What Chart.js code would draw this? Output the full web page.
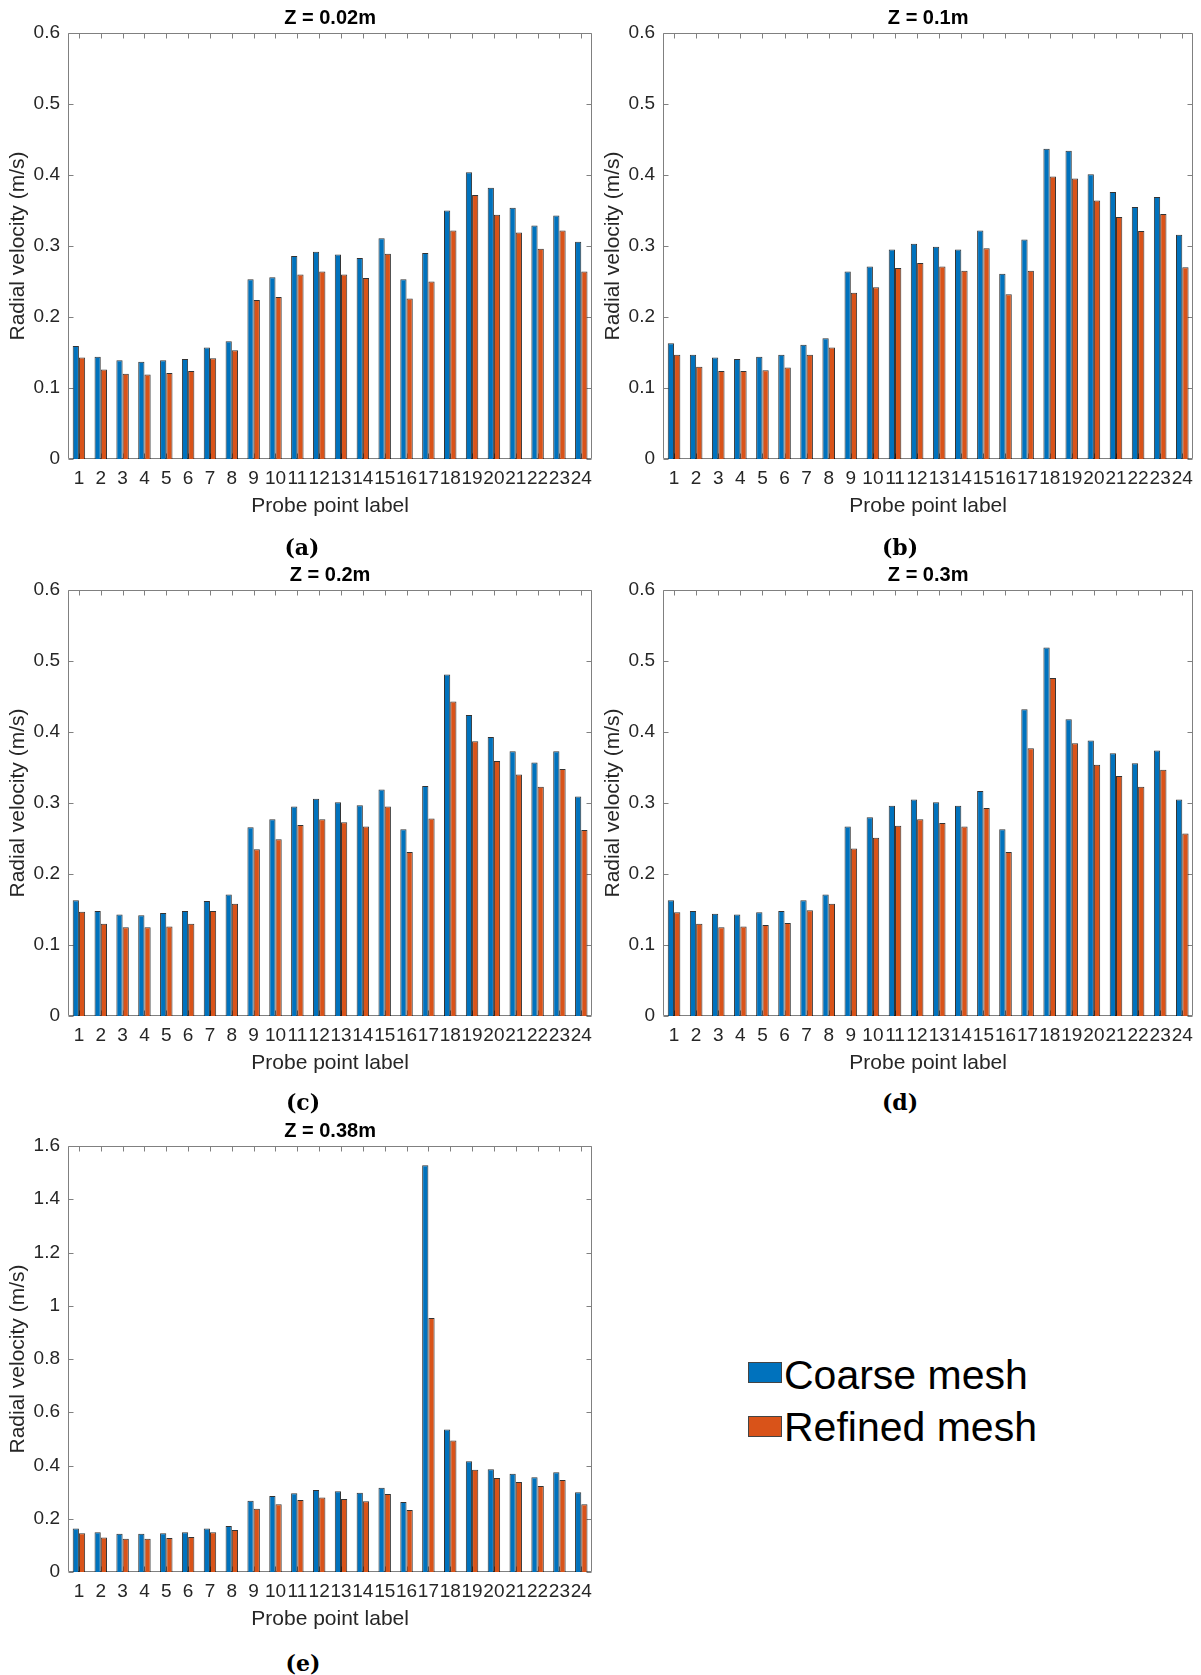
<!DOCTYPE html>
<html>
<head>
<meta charset="utf-8">
<script src="https://cdn.jsdelivr.net/npm/chart.js@4.4.1/dist/chart.umd.min.js"></script>
<style>
  body{margin:0;background:#fff;width:1201px;height:1675px;position:relative;overflow:hidden;font-family:"Liberation Sans",Arial,sans-serif}
  canvas{position:absolute}
  .cap{position:absolute;width:100px;text-align:center;font:bold 22px "DejaVu Serif",serif;line-height:26px;color:#000}
  .legtxt{position:absolute;left:784px;font-size:41px;line-height:41px;color:#000;white-space:nowrap}
  .sw{position:absolute;left:748px;width:32px;height:19px;border:1px solid #444}
</style>
</head>
<body>
<canvas id="pa" width="600" height="531" style="left:0;top:0"></canvas>
<canvas id="pb" width="606" height="531" style="left:595px;top:0"></canvas>
<canvas id="pc" width="600" height="531" style="left:0;top:557px"></canvas>
<canvas id="pd" width="606" height="531" style="left:595px;top:557px"></canvas>
<canvas id="pe" width="600" height="531" style="left:0;top:1113px"></canvas>

<div class="cap" style="left:252px;top:534px">(a)</div>
<div class="cap" style="left:850px;top:534px">(b)</div>
<div class="cap" style="left:253px;top:1089px">(c)</div>
<div class="cap" style="left:850px;top:1089px">(d)</div>
<div class="cap" style="left:253px;top:1650px">(e)</div>

<div class="sw" style="top:1362px;background:#0072BD"></div>
<div class="legtxt" style="top:1355px">Coarse mesh</div>
<div class="sw" style="top:1416px;background:#D95319"></div>
<div class="legtxt" style="top:1407px">Refined mesh</div>

<script>
const probeLabels = ['1','2','3','4','5','6','7','8','9','10','11','12','13','14','15','16','17','18','19','20','21','22','23','24'];

// Z = 0.02m
const coarse002 = [0.159,0.144,0.139,0.137,0.139,0.141,0.157,0.166,0.253,0.256,0.286,0.292,0.288,0.283,0.311,0.253,0.290,0.350,0.404,0.382,0.354,0.329,0.343,0.306];
const refined002 = [0.143,0.126,0.120,0.119,0.121,0.124,0.142,0.153,0.224,0.228,0.260,0.264,0.260,0.255,0.289,0.226,0.250,0.322,0.372,0.344,0.319,0.296,0.322,0.264];
// Z = 0.1m
const coarse01 = [0.163,0.147,0.143,0.141,0.144,0.147,0.161,0.170,0.264,0.271,0.295,0.303,0.299,0.295,0.322,0.261,0.309,0.437,0.434,0.401,0.376,0.355,0.369,0.316];
const refined01 = [0.147,0.130,0.124,0.124,0.125,0.129,0.147,0.157,0.234,0.242,0.269,0.276,0.271,0.265,0.297,0.232,0.265,0.398,0.395,0.364,0.341,0.321,0.345,0.270];
// Z = 0.2m
const coarse02 = [0.163,0.148,0.143,0.142,0.145,0.148,0.162,0.171,0.266,0.277,0.295,0.306,0.301,0.297,0.319,0.263,0.324,0.481,0.424,0.393,0.373,0.357,0.373,0.309];
const refined02 = [0.147,0.130,0.125,0.125,0.126,0.130,0.148,0.158,0.235,0.249,0.269,0.277,0.273,0.267,0.295,0.231,0.278,0.443,0.387,0.359,0.340,0.323,0.348,0.262];
// Z = 0.3m
const coarse03 = [0.163,0.148,0.144,0.143,0.146,0.148,0.163,0.171,0.267,0.280,0.296,0.305,0.301,0.296,0.317,0.263,0.432,0.519,0.418,0.388,0.370,0.356,0.374,0.305];
const refined03 = [0.146,0.130,0.125,0.126,0.128,0.131,0.149,0.158,0.236,0.251,0.268,0.277,0.272,0.267,0.293,0.231,0.377,0.476,0.384,0.354,0.338,0.323,0.347,0.257];
// Z = 0.38m
const coarse038 = [0.163,0.149,0.144,0.144,0.146,0.149,0.163,0.173,0.268,0.285,0.296,0.308,0.303,0.298,0.316,0.263,1.528,0.535,0.416,0.386,0.369,0.356,0.375,0.300];
const refined038 = [0.146,0.130,0.125,0.125,0.128,0.131,0.149,0.158,0.238,0.254,0.270,0.280,0.274,0.266,0.293,0.233,0.954,0.494,0.384,0.353,0.338,0.323,0.346,0.254];

const FONT = '"Liberation Sans", Arial, sans-serif';
const TXT = '#262626';
const BLUE = '#0072BD', ORANGE = '#D95319', EDGE = 'rgba(0,0,0,0.8)';

// matlab style box with inward ticks, drawn under the bars
const boxPlugin = {
  id:'box',
  beforeDatasetsDraw(chart){
    const {ctx, chartArea, scales:{x,y}} = chart;
    const l = Math.round(chartArea.left)+0.5, r = Math.round(chartArea.right)-0.5;
    const t = Math.round(chartArea.top)+0.5, b = Math.round(chartArea.bottom)-0.5;
    ctx.save();
    ctx.strokeStyle = '#808080'; ctx.lineWidth = 1;
    ctx.beginPath();
    ctx.rect(l, t, r-l, b-t);
    x.ticks.forEach((_,i)=>{
      const px = Math.round(x.getPixelForTick(i))+0.5;
      ctx.moveTo(px, b); ctx.lineTo(px, b-5);
      ctx.moveTo(px, t); ctx.lineTo(px, t+5);
    });
    y.ticks.forEach((_,i)=>{
      const py = Math.round(y.getPixelForTick(i))+0.5;
      ctx.moveTo(l, py); ctx.lineTo(l+5, py);
      ctx.moveTo(r, py); ctx.lineTo(r-5, py);
    });
    ctx.stroke();
    ctx.restore();
  }
};

function makePanel(id, title, coarse, refined, yMax, yStep, padRight){
  const bar = {borderColor:EDGE, borderWidth:1, barPercentage:1, categoryPercentage:0.57};
  return new Chart(document.getElementById(id), {
    type:'bar',
    data:{labels:probeLabels, datasets:[
      Object.assign({label:'Coarse mesh', data:coarse, backgroundColor:BLUE}, bar),
      Object.assign({label:'Refined mesh', data:refined, backgroundColor:ORANGE}, bar)
    ]},
    options:{
      responsive:false, animation:false,
      layout:{padding:{left:0, top:0, bottom:0, right:padRight}},
      plugins:{
        legend:{display:false}, tooltip:{enabled:false},
        title:{display:true, text:title, fullSize:false, color:'#000',
          font:{family:FONT, size:20, weight:'bold', lineHeight:1.2}, padding:{top:6.5, bottom:2.5}}
      },
      scales:{
        x:{
          grid:{display:false, drawTicks:false}, border:{display:false},
          ticks:{autoSkip:false, maxRotation:0, minRotation:0, padding:8, color:TXT,
            font:{family:FONT, size:19, lineHeight:1.2}},
          title:{display:true, text:'Probe point label', color:TXT,
            font:{family:FONT, size:21, lineHeight:1.2}, padding:{top:0, bottom:12.4}},
          afterFit:s=>{ s.height = 72; }
        },
        y:{
          min:0, max:yMax,
          grid:{display:false, drawTicks:false}, border:{display:false},
          ticks:{stepSize:yStep, padding:8, color:TXT, font:{family:FONT, size:19, lineHeight:1.2},
            callback:v=>String(+v.toFixed(1))},
          title:{display:true, text:'Radial velocity (m/s)', color:TXT,
            font:{family:FONT, size:21, lineHeight:1.2}, padding:{top:5.7, bottom:0}},
          afterFit:s=>{ s.width = 68; }
        }
      }
    },
    plugins:[boxPlugin]
  });
}

makePanel('pa', 'Z = 0.02m', coarse002, refined002, 0.6, 0.1, 2);
makePanel('pb', 'Z = 0.1m', coarse01, refined01, 0.6, 0.1, 7);
makePanel('pc', 'Z = 0.2m', coarse02, refined02, 0.6, 0.1, 2);
makePanel('pd', 'Z = 0.3m', coarse03, refined03, 0.6, 0.1, 7);
makePanel('pe', 'Z = 0.38m', coarse038, refined038, 1.6, 0.2, 2);
</script>
</body>
</html>
